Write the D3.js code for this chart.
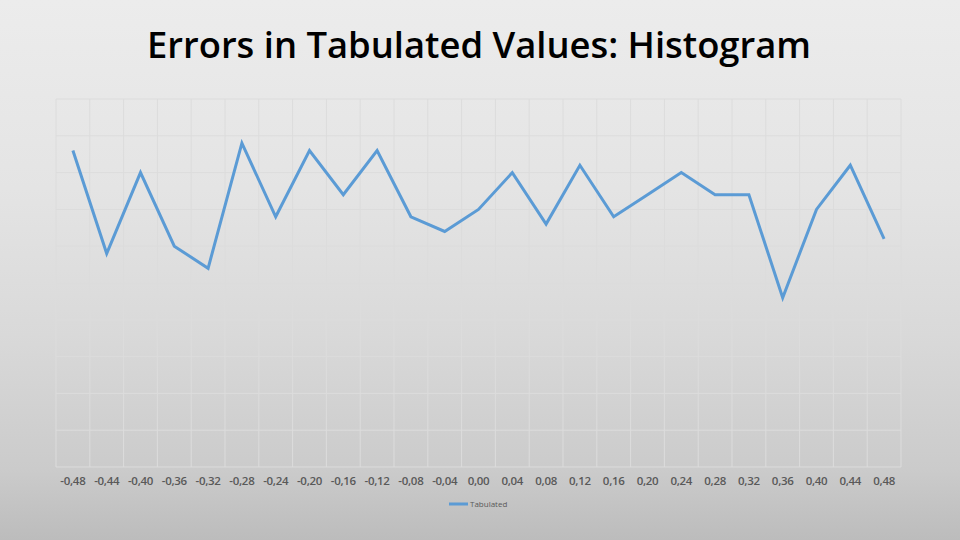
<!DOCTYPE html>
<html>
<head>
<meta charset="utf-8">
<script src="https://cdn.jsdelivr.net/npm/d3@7"></script>
<style>
  body { margin: 0; }
  svg { display: block; }
</style>
</head>
<body>
<div id="chart"></div>
<script>
// bins of the error histogram and counts per bin
var bins = [-0.48, -0.44, -0.40, -0.36, -0.32, -0.28, -0.24, -0.20, -0.16, -0.12, -0.08, -0.04,
    0.00, 0.04, 0.08, 0.12, 0.16, 0.20, 0.24, 0.28, 0.32, 0.36, 0.40, 0.44, 0.48];
var tabulated = [43, 29, 40, 30, 27, 44, 34, 43, 37, 43, 34, 32,
    35, 40, 33, 41, 34, 37, 40, 37, 37, 23, 35, 41, 31];
var yTicks = [0, 5, 10, 15, 20, 25, 30, 35, 40, 45, 50];

var W = 960, H = 540;
var margin = { top: 99, right: 59, bottom: 73, left: 56 },
    width = W - margin.left - margin.right,
    height = H - margin.top - margin.bottom;

var root = d3.select("#chart")
    .append("svg")
    .attr("width", W)
    .attr("height", H);

var grad = root.append("defs").append("linearGradient")
    .attr("id", "bg")
    .attr("x1", 0).attr("y1", 0).attr("x2", 0).attr("y2", 1);
grad.append("stop").attr("offset", "0%").attr("stop-color", "#ececec");
grad.append("stop").attr("offset", "35%").attr("stop-color", "#e4e4e4");
grad.append("stop").attr("offset", "62%").attr("stop-color", "#d9d9d9");
grad.append("stop").attr("offset", "87%").attr("stop-color", "#cbcbcb");
grad.append("stop").attr("offset", "100%").attr("stop-color", "#bcbcbc");

root.append("rect")
    .attr("width", W)
    .attr("height", H)
    .attr("fill", "url(#bg)");

root.append("text")
    .attr("x", 479)
    .attr("y", 58)
    .attr("text-anchor", "middle")
    .attr("textLength", 664)
    .attr("lengthAdjust", "spacingAndGlyphs")
    .style("font-family", "'Open Sans', sans-serif")
    .style("font-weight", "600")
    .style("font-size", "36px")
    .style("fill", "#000")
    .text("Errors in Tabulated Values: Histogram");

var svg = root.append("g")
    .attr("transform", "translate(" + margin.left + "," + margin.top + ")");

var x = d3.scaleBand()
    .domain(bins)
    .range([0, width]);

var y = d3.scaleLinear()
    .domain([0, 50])
    .range([height, 0]);

// horizontal gridlines
svg.append("g")
    .selectAll("line")
    .data(yTicks)
    .enter().append("line")
    .attr("x1", 0)
    .attr("x2", width)
    .attr("y1", function (d) { return y(d); })
    .attr("y2", function (d) { return y(d); })
    .attr("stroke", "#dcdcdc")
    .attr("stroke-width", 1);

// vertical gridlines between categories
var edges = bins.map(function (d) { return x(d); }).concat([width]);
svg.append("g")
    .selectAll("line")
    .data(edges)
    .enter().append("line")
    .attr("x1", function (d) { return d; })
    .attr("x2", function (d) { return d; })
    .attr("y1", 0)
    .attr("y2", height)
    .attr("stroke", "#dcdcdc")
    .attr("stroke-width", 1);

var fmt = function (d) { return d3.format(".2f")(d).replace("−", "-").replace(".", ","); };

var xAxis = svg.append("g")
    .attr("transform", "translate(0," + height + ")")
    .call(d3.axisBottom(x).tickSize(0).tickPadding(10).tickFormat(fmt));
xAxis.select(".domain").remove();
xAxis.selectAll("text")
    .style("font-family", "'Open Sans', sans-serif")
    .style("font-size", "11.5px")
    .style("font-weight", "600")
    .style("letter-spacing", "-0.3px")
    .style("fill", "#595959");

svg.append("path")
    .datum(tabulated)
    .attr("fill", "none")
    .attr("stroke", "#5b9bd5")
    .attr("stroke-width", 3)
    .attr("stroke-linejoin", "miter")
    .attr("d", d3.line()
        .x(function (d, i) { return x(bins[i]) + x.bandwidth() / 2; })
        .y(function (d) { return y(d); })
    );

// legend
var leg = root.append("g")
    .attr("transform", "translate(449,504)");
leg.append("line")
    .attr("x1", 0)
    .attr("x2", 19)
    .attr("stroke", "#5b9bd5")
    .attr("stroke-width", 3);
leg.append("text")
    .attr("x", 21)
    .attr("y", 3)
    .style("font-family", "'Open Sans', sans-serif")
    .style("font-size", "8px")
    .style("fill", "#595959")
    .text("Tabulated");
</script>
</body>
</html>
